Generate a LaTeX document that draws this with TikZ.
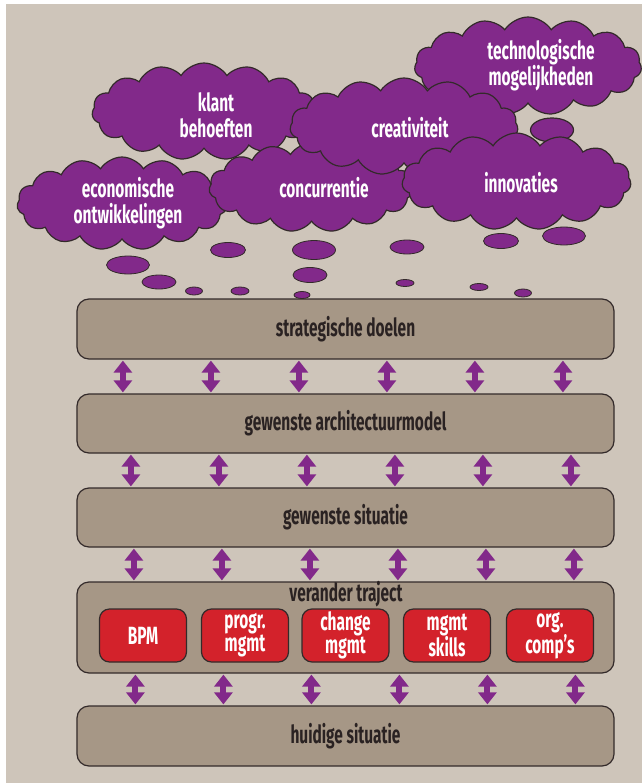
\documentclass[tikz,border=0pt]{standalone}
\usepackage{fontspec}
\setmainfont{Fira Sans}[FakeStretch=0.62]
\usetikzlibrary{shapes.symbols,arrows.meta}
\definecolor{panel}{HTML}{CEC5BA}
\definecolor{boxc}{HTML}{A69786}
\definecolor{purp}{HTML}{82298A}
\definecolor{redc}{HTML}{D3222B}
\definecolor{edge}{HTML}{332A2A}
\definecolor{txt}{HTML}{2A2222}
\begin{document}
\begin{tikzpicture}[x=1bp,y=-1bp,
  layer/.style={draw=edge, line width=1.2bp, fill=boxc, rounded corners=12bp,
    minimum width=537bp, inner sep=0pt, font=\fontsize{25}{26}\selectfont\bfseries, text=txt},
  redbox/.style={draw=edge, line width=1.2bp, fill=redc, rounded corners=10bp,
    minimum width=87bp, minimum height=53bp, inner sep=0pt, align=center,
    font=\fontsize{25}{23}\selectfont\bfseries, text=white},
  cl/.style={cloud, cloud puffs=15, cloud puff arc=115, cloud ignores aspect,
    draw=edge, line width=1.2bp, fill=purp, inner sep=0pt},
  cltext/.style={align=center, text=white, font=\fontsize{25}{26}\selectfont\bfseries, inner sep=0pt},
  bub/.style={draw=edge, line width=0.8bp, fill=purp},
  dbl/.style={purp, line width=6bp,
    {Triangle[width=18bp,length=12bp]}-{Triangle[width=18bp,length=12bp]},
    shorten <=1bp, shorten >=1bp}]
\useasboundingbox (0,0) rectangle (642,783);
\fill[white] (0,0) rectangle (642,783);
\fill[panel] (6,4) rectangle (642,783);

% clouds
\node[cl, minimum width=227bp, minimum height=98bp] (c1) at (528,66) {};
\node[cl, minimum width=224bp, minimum height=97bp] (c2) at (204,111.5) {};
\node[cl, minimum width=210bp, minimum height=93bp] (c6) at (122,203.5) {};
\node[cl, minimum width=205bp, minimum height=89bp] (c4) at (311.5,187.5) {};
\node[cl, minimum width=228bp, minimum height=97bp] (c3) at (404,126.5) {};
\draw[bub, line width=1.2bp] (552,130) ellipse [x radius=21.5, y radius=12];
\node[cl, minimum width=229bp, minimum height=97bp] (c5) at (516.5,181.5) {};

\node[cltext] (t1) at (541,65) {technologische\\mogelijkheden};
\node[cltext] (t2) at (216,115) {klant\\behoeften};
\node[cltext] (t3) at (410,128) {creativiteit};
\node[cltext] (t4) at (324,188) {concurrentie};
\node[cltext] (t5) at (521,183) {innovaties};
\node[cltext] (t6) at (128,203) {economische\\ontwikkelingen};

% bubbles
\draw[bub] (228,250) ellipse [x radius=17.5, y radius=7.5];
\draw[bub] (314,250) ellipse [x radius=21.5, y radius=9.5];
\draw[bub] (407,247) ellipse [x radius=17, y radius=7];
\draw[bub] (501,241) ellipse [x radius=17.5, y radius=7.5];
\draw[bub] (564,236) ellipse [x radius=21.5, y radius=9];
\draw[bub] (128,265) ellipse [x radius=21.5, y radius=9];
\draw[bub] (310,275) ellipse [x radius=17, y radius=7.5];
\draw[bub] (159,282) ellipse [x radius=17, y radius=7];
\draw[bub] (194,291) ellipse [x radius=8.5, y radius=4];
\draw[bub] (240,291) ellipse [x radius=9, y radius=4];
\draw[bub] (302,295) ellipse [x radius=8, y radius=3.5];
\draw[bub] (405,283) ellipse [x radius=9, y radius=3.5];
\draw[bub] (479,287) ellipse [x radius=9, y radius=3.5];
\draw[bub] (523,293) ellipse [x radius=8.5, y radius=4];

% layers
\node[layer, minimum height=60bp] (b1) at (345.5,329) {strategische doelen};
\node[layer, minimum height=59bp] (b2) at (345.5,423.5) {gewenste architectuurmodel};
\node[layer, minimum height=59bp] (b3) at (345.5,517.5) {gewenste situatie};
\node[layer, minimum height=91bp] (b4) at (345.5,627.5) {};
\node[text=txt, font=\fontsize{25}{26}\selectfont\bfseries, inner sep=0pt] (vt) at (346,594) {verander traject};
\node[layer, minimum height=60bp] (b5) at (345.5,736) {huidige situatie};

\node[redbox] (r1) at (143,635.5) {BPM};
\node[redbox] (r2) at (245,635.5) {progr.\\mgmt};
\node[redbox] (r3) at (345.5,635.5) {change\\mgmt};
\node[redbox] (r4) at (447,635.5) {mgmt\\skills};
\node[redbox] (r5) at (550,635.5) {org.\\comp’s};

% arrows
\foreach \i in {0,...,5} {
  \draw[dbl] ([xshift={46.5bp+\i*88bp}]b1.south west) -- ([xshift={46.5bp+\i*88bp}]b2.north west);
  \draw[dbl] ([xshift={54.5bp+\i*88bp}]b2.south west) -- ([xshift={54.5bp+\i*88bp}]b3.north west);
  \draw[dbl] ([xshift={57.5bp+\i*88bp}]b3.south west) -- ([xshift={57.5bp+\i*88bp}]b4.north west);
  \draw[dbl] ([xshift={59bp+\i*88bp}]b4.south west) -- ([xshift={59bp+\i*88bp}]b5.north west);
}
\end{tikzpicture}
\end{document}
